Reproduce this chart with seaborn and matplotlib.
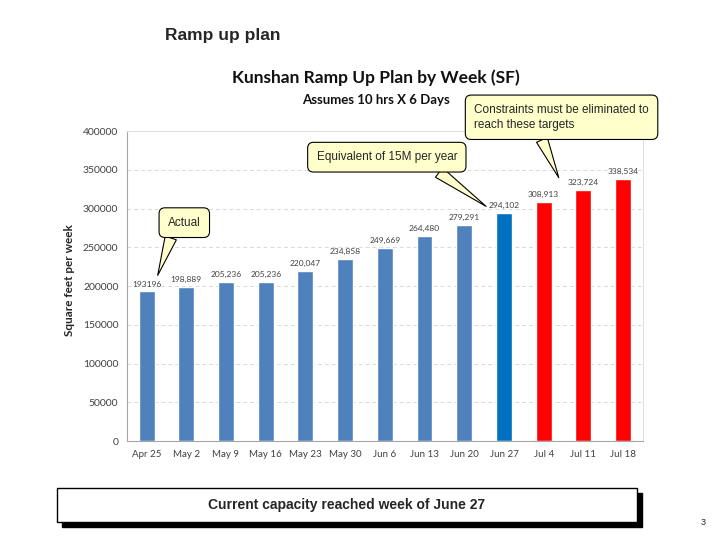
import matplotlib
matplotlib.use("Agg")
import matplotlib.pyplot as plt
import seaborn as sns
import pandas as pd
from matplotlib.patches import Rectangle

# datos del grafico
weeks = ['Apr 25', 'May 2', 'May 9', 'May 16', 'May 23', 'May 30', 'Jun 6',
         'Jun 13', 'Jun 20', 'Jun 27', 'Jul 4', 'Jul 11', 'Jul 18']
sq_feet = [193196, 198889, 205236, 205236, 220047, 234858, 249669,
           264480, 279291, 294102, 308913, 323724, 338534]
value_labels = ['193196', '198,889', '205,236', '205,236', '220,047', '234,858',
                '249,669', '264,480', '279,291', '294,102', '308,913', '323,724',
                '338,534']
bar_colors = ['#4F81BD'] * 9 + ['#0070C0'] + ['#FF0000'] * 3
y_ticks = [0, 50000, 100000, 150000, 200000, 250000, 300000, 350000, 400000]

df = pd.DataFrame({'week': weeks, 'sf': sq_feet})

sns.set_style('white')
plt.rcParams['font.family'] = ['Lato', 'DejaVu Sans']

fig = plt.figure(figsize=(7.2, 5.4), dpi=100)
ax = fig.add_axes([0.176, 0.183, 0.717, 0.574])

sns.barplot(data=df, x='week', y='sf', hue='week', palette=bar_colors,
            legend=False, width=0.4, saturation=1, ax=ax)

for i, (v, lab) in enumerate(zip(sq_feet, value_labels)):
    ax.text(i, v + 5000, lab, ha='center', va='bottom', fontsize=6,
            color='#404040')

ax.set_xlim(-0.5, len(weeks) - 0.5)
ax.set_ylim(0, 400000)
ax.set_yticks(y_ticks)
ax.set_yticklabels([str(t) for t in y_ticks])
ax.yaxis.grid(True, linestyle=(0, (4, 3)), color='#D9D9D9', linewidth=0.7)
ax.set_axisbelow(True)
ax.set_xlabel('')
ax.set_ylabel('Square feet per week', fontsize=8.5, fontweight='bold',
              color='#262626')
ax.yaxis.set_label_coords(-0.1, 0.52)
ax.tick_params(axis='both', labelsize=7, colors='#404040', length=0, pad=6)
ax.set_xticks([i + 0.5 for i in range(-1, len(weeks))], minor=True)
ax.tick_params(axis='x', which='minor', length=4, color='#A6A6A6', direction='out')
ax.tick_params(axis='y', pad=6, labelsize=7.5)
for s in ['left', 'bottom']:
    ax.spines[s].set_color('#A6A6A6')
    ax.spines[s].set_linewidth(0.8)
for s in ['top', 'right']:
    ax.spines[s].set_color('#E0E0E0')
    ax.spines[s].set_linewidth(0.8)

# titulos
fig.text(0.229, 0.935, 'Ramp up plan', fontsize=12.5, fontweight='bold',
         family='Liberation Sans', ha='left', va='center')
fig.text(0.522, 0.856, 'Kunshan Ramp Up Plan by Week (SF)', fontsize=12.5,
         fontweight='bold', ha='center', va='center', color='#111111')
fig.text(0.522, 0.815, 'Assumes 10 hrs X 6 Days', fontsize=9.5,
         fontweight='bold', ha='center', va='center', color='#111111')

# llamadas
box = dict(boxstyle='round,pad=0.75,rounding_size=0.5', fc='#FFFFCC',
           ec='black', lw=0.8)


def tail(rel):
    return dict(arrowstyle='wedge,tail_width=1.0,shrink_factor=0.5',
                fc='#FFFFCC', ec='black', lw=0.8, relpos=rel,
                shrinkA=0, shrinkB=0)


ax.annotate('Actual', xy=(0.28, 214000), xytext=(0.95, 282000),
            fontsize=8.5, family='Liberation Sans', ha='center', va='center',
            bbox=box, arrowprops=tail((0.25, 0.5)))
ax.annotate('Equivalent of 15M per year', xy=(8.55, 303000),
            xytext=(6.05, 366500), fontsize=8.5, family='Liberation Sans',
            ha='center', va='center', bbox=box, arrowprops=tail((0.72, 0.5)))
ax.annotate('Constraints must be eliminated to\nreach these targets',
            xy=(10.38, 340000), xytext=(10.45, 418000), fontsize=8.5,
            family='Liberation Sans', ha='center', va='center',
            bbox=box, arrowprops=tail((0.33, 0.5)), annotation_clip=False,
            multialignment='left', linespacing=1.3)

# recuadro inferior con sombra
fig.patches.append(Rectangle((0.086, 0.024), 0.806, 0.063, transform=fig.transFigure,
                             fc='black', ec='black', zorder=1))
fig.patches.append(Rectangle((0.079, 0.033), 0.806, 0.063, transform=fig.transFigure,
                             fc='white', ec='black', lw=1, zorder=2))
fig.text(0.482, 0.064, 'Current capacity reached week of June 27', fontsize=10,
         fontweight='bold', family='Liberation Sans', ha='center', va='center',
         zorder=3)
fig.text(0.976, 0.033, '3', fontsize=6.5, family='Liberation Sans',
         ha='center', va='center')

fig.savefig('out.png', dpi=100)
